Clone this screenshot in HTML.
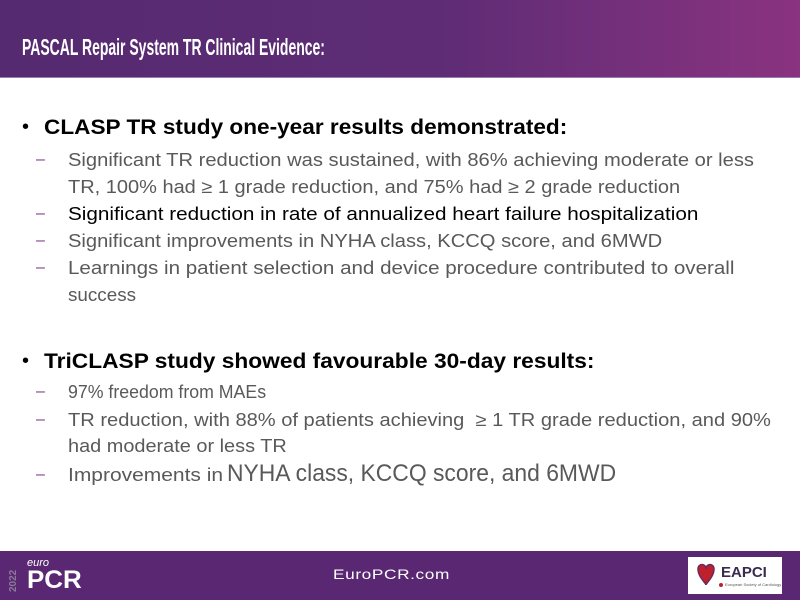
<!DOCTYPE html>
<html><head><meta charset="utf-8">
<style>
body{margin:0;width:800px;height:600px;position:relative;overflow:hidden;background:#fff;font-family:"Liberation Sans",sans-serif}
.hdr{position:absolute;left:0;top:0;width:800px;height:77px;background:linear-gradient(90deg,#552a70 0%,#5e2c75 55%,#8a3380 100%);border-bottom:1px solid #9a7ab0}
.ftr{position:absolute;left:0;top:551px;width:800px;height:49px;background:#5a2873}
.t{position:absolute;white-space:nowrap;transform-origin:0 0;line-height:1}
.g{color:#595959;font-size:18px}
.b{color:#000;font-weight:bold;font-size:21px}
.d{position:absolute;color:#7a3a8a;font-size:16px;line-height:1}
</style></head><body>
<div class="hdr"></div>
<div class="t" data-w="303" style="left:22px;top:36px;color:#fff;font-weight:bold;font-size:23px">PASCAL Repair System TR Clinical Evidence:</div>

<div class="t" style="left:22px;top:117px;font-size:20px">•</div>
<div class="t b" data-w="523" style="left:44px;top:117px">CLASP TR study one-year results demonstrated:</div>
<div class="d" style="left:36px;top:152px">–</div>
<div class="t g" data-w="686" style="left:68px;top:151px">Significant TR reduction was sustained, with 86% achieving moderate or less</div>
<div class="t g" data-w="612" style="left:68px;top:178px">TR, 100% had ≥ 1 grade reduction, and 75% had ≥ 2 grade reduction</div>
<div class="d" style="left:36px;top:206px">–</div>
<div class="t g" data-w="630" style="left:68px;top:205px;color:#000">Significant reduction in rate of annualized heart failure hospitalization</div>
<div class="d" style="left:36px;top:233px">–</div>
<div class="t g" data-w="594" style="left:68px;top:232px">Significant improvements in NYHA class, KCCQ score, and 6MWD</div>
<div class="d" style="left:36px;top:260px">–</div>
<div class="t g" data-w="666" style="left:68px;top:259px">Learnings in patient selection and device procedure contributed to overall</div>
<div class="t g" data-w="68" style="left:68px;top:286px">success</div>

<div class="t" style="left:22px;top:351px;font-size:20px">•</div>
<div class="t b" data-w="550" style="left:44px;top:351px">TriCLASP study showed favourable 30-day results:</div>
<div class="d" style="left:36px;top:384px">–</div>
<div class="t g" data-w="198" style="left:68px;top:383px">97% freedom from MAEs</div>
<div class="d" style="left:36px;top:412px">–</div>
<div class="t g" data-w="703" style="left:68px;top:411px">TR reduction, with 88% of patients achieving&nbsp; ≥ 1 TR grade reduction, and 90%</div>
<div class="t g" data-w="219" style="left:68px;top:437px">had moderate or less TR</div>
<div class="d" style="left:36px;top:467px">–</div>
<div class="t g" data-w="155" style="left:68px;top:466px;font-size:18px">Improvements in</div>
<div class="t g" data-w="389" style="left:227px;top:462px;font-size:24px">NYHA class, KCCQ score, and 6MWD</div>

<div class="ftr"></div>
<div class="t" style="left:9px;color:#8a7a9a;font-size:10px;font-weight:bold;transform:rotate(-90deg);transform-origin:0 0;top:592px">2022</div>
<div class="t" style="left:27px;top:558px;color:#fff;font-size:11px;font-style:italic">euro</div>
<div class="t" data-w="55" style="left:27px;top:568px;color:#fff;font-size:25px;font-weight:bold">PCR</div>
<div class="t" data-w="117" style="left:333px;top:567px;color:#fff;font-size:14px;letter-spacing:0.5px">EuroPCR.com</div>
<div style="position:absolute;left:688px;top:557px;width:94px;height:37px;background:#fff">
<svg width="94" height="37" style="position:absolute;left:0;top:0"><path d="M10 12 C10 6,18 6,18 12 C18 6,26 6,26 12 C26 20,18 26,18 28 C18 26,10 20,10 12Z" fill="#c0202a" stroke="#6a2a60" stroke-width="1.5"/><circle cx="33" cy="28" r="2" fill="#c0202a"/></svg>
<div class="t" style="left:33px;top:8px;font-size:15px;font-weight:bold;color:#3a2a50">EAPCI</div>
<div class="t" style="left:37px;top:26px;font-size:4px;color:#555">European Society of Cardiology</div>
</div>
<script>
document.querySelectorAll('[data-w]').forEach(function(el){
  var w=parseFloat(el.getAttribute('data-w'));var a=el.scrollWidth||el.getBoundingClientRect().width;
  if(a>0) el.style.transform='scaleX('+(w/a)+')';
});
</script>
</body></html>
